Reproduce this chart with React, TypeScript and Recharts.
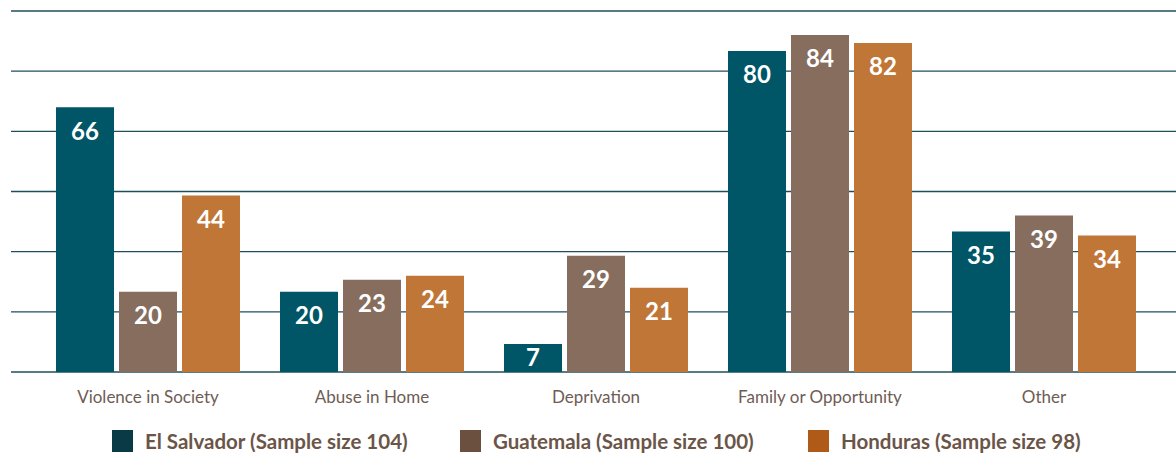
import { BarChart, Bar, XAxis, YAxis, CartesianGrid, Legend, LabelList } from 'recharts';

const categories = ['Violence in Society', 'Abuse in Home', 'Deprivation', 'Family or Opportunity', 'Other'];
const elSalvador = [66, 20, 7, 80, 35];
const guatemala = [20, 23, 29, 84, 39];
const honduras = [44, 24, 21, 82, 34];
const yTicks = [0, 15, 30, 45, 60, 75, 90];

const seriesInfo = [
  { key: 'elSalvador', label: 'El Salvador (Sample size 104)', fill: '#005566', swatch: '#0B3A47' },
  { key: 'guatemala', label: 'Guatemala (Sample size 100)', fill: '#866D5E', swatch: '#6B4F3F' },
  { key: 'honduras', label: 'Honduras (Sample size 98)', fill: '#C07637', swatch: '#B05A17' },
];

const data = categories.map((name, i) => ({
  name,
  elSalvador: elSalvador[i],
  guatemala: guatemala[i],
  honduras: honduras[i],
}));

const FONT = 'Lato, "Open Sans", sans-serif';

// value inside the top of the bar; short bars get the label pulled up a bit
function ValueLabel(props: any) {
  const { x, y, width, height, value } = props;
  const off = Math.min(15, height / 2 - 9);
  return (
    <text
      x={x + width / 2}
      y={y + off}
      dy="0.72em"
      textAnchor="middle"
      fill="#FFFFFF"
      style={{ fontSize: 24, fontWeight: 700, fontFamily: FONT }}
    >
      {value}
    </text>
  );
}

function LegendRow() {
  // fixed slots so the swatches line up with the reference
  return (
    <div style={{ position: 'relative', height: 45, fontFamily: FONT }}>
      {seriesInfo.map((s, i) => (
        <div
          key={s.key}
          style={{
            position: 'absolute',
            left: 112 + i * 348,
            top: 21,
            display: 'flex',
            alignItems: 'center',
            whiteSpace: 'nowrap',
          }}
        >
          <span style={{ display: 'inline-block', width: 21, height: 22, background: s.swatch, marginRight: 12 }} />
          <span style={{ fontSize: 20.5, fontWeight: 700, color: '#6B5548' }}>{s.label}</span>
        </div>
      ))}
    </div>
  );
}

export default function App() {
  return (
    <div style={{ position: 'absolute', left: 0, top: 0, width: 1176, height: 453, background: '#fff' }}>
      <BarChart
        width={1176}
        height={453}
        data={data}
        margin={{ top: 11, right: 0, left: 11, bottom: 0 }}
        barGap={5}
        barCategoryGap={20}
      >
        <CartesianGrid vertical={false} stroke="#1E4F5B" strokeWidth={1.4} />
        <XAxis
          dataKey="name"
          axisLine={false}
          tickLine={false}
          tickSize={0}
          tickMargin={19}
          height={36}
          padding={{ left: 25, right: 20 }}
          tick={{ fill: '#6E5C55', fontSize: 17, fontFamily: FONT }}
          interval={0}
        />
        <YAxis hide domain={[0, 90]} ticks={yTicks} />
        <Legend verticalAlign="bottom" height={45} wrapperStyle={{ left: 0, width: 1176 }} content={() => <LegendRow />} />
        {seriesInfo.map((s) => (
          <Bar key={s.key} dataKey={s.key} fill={s.fill} isAnimationActive={false}>
            <LabelList dataKey={s.key} content={ValueLabel} />
          </Bar>
        ))}
      </BarChart>
    </div>
  );
}
